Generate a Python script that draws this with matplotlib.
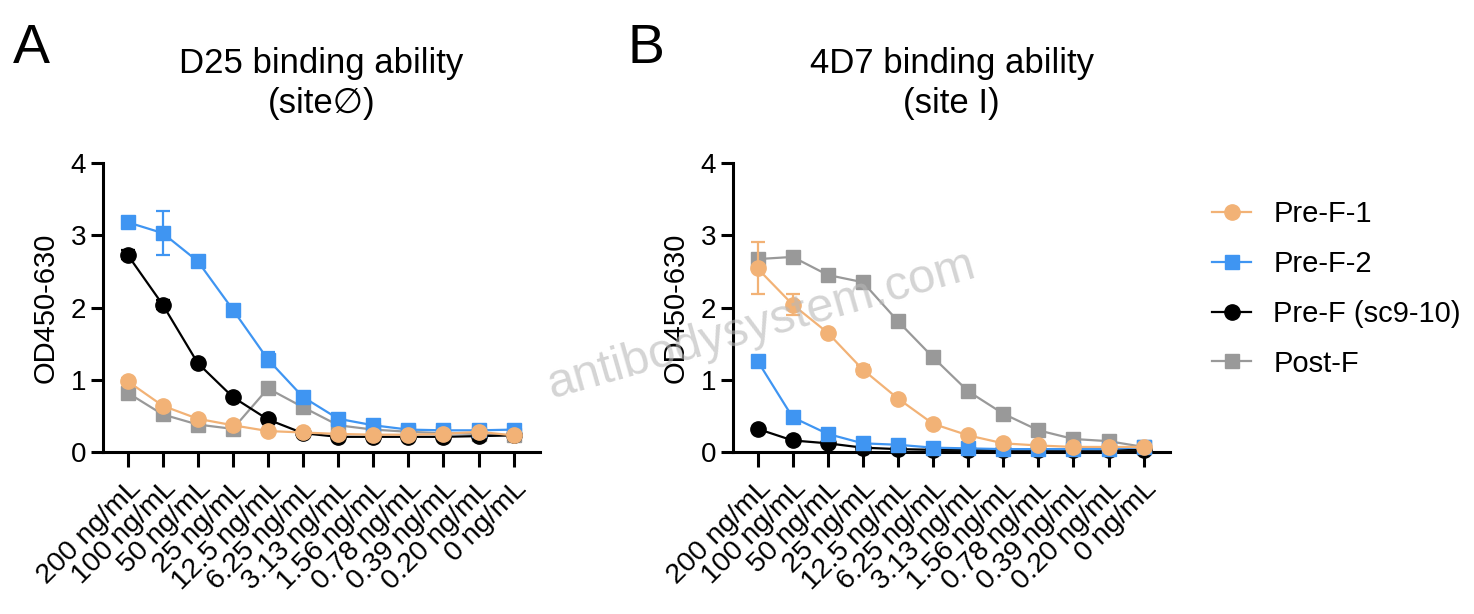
import matplotlib
matplotlib.use("Agg")
import matplotlib.pyplot as plt
from matplotlib.lines import Line2D
import numpy as np

plt.rcParams['font.family'] = ['Liberation Sans', 'DejaVu Sans']

concentrations = ["200 ng/mL", "100 ng/mL", "50 ng/mL", "25 ng/mL", "12.5 ng/mL",
                  "6.25 ng/mL", "3.13 ng/mL", "1.56 ng/mL", "0.78 ng/mL",
                  "0.39 ng/mL", "0.20 ng/mL", "0 ng/mL"]
series_names = ["Pre-F-1", "Pre-F-2", "Pre-F (sc9-10)", "Post-F"]

# Panel A: D25
d25_pref1 = [0.98, 0.64, 0.46, 0.37, 0.29, 0.27, 0.25, 0.24, 0.24, 0.25, 0.28, 0.23]
d25_pref2 = [3.18, 3.03, 2.64, 1.97, 1.28, 0.76, 0.46, 0.37, 0.31, 0.30, 0.30, 0.31]
d25_sc910 = [2.73, 2.04, 1.23, 0.76, 0.45, 0.26, 0.21, 0.21, 0.21, 0.21, 0.22, 0.23]
d25_postf = [0.82, 0.52, 0.38, 0.32, 0.88, 0.62, 0.37, 0.31, 0.28, 0.26, 0.25, 0.23]
d25_pref1_err = [0.04, 0.03, 0.02, 0.02, 0.02, 0.01, 0.01, 0.01, 0.01, 0.01, 0.01, 0.01]
d25_pref2_err = [0.03, 0.30, 0.04, 0.04, 0.10, 0.04, 0.02, 0.01, 0.01, 0.01, 0.01, 0.01]
d25_sc910_err = [0.06, 0.06, 0.03, 0.02, 0.02, 0.01, 0.01, 0.01, 0.01, 0.01, 0.01, 0.01]
d25_postf_err = [0.03, 0.02, 0.02, 0.02, 0.03, 0.03, 0.01, 0.01, 0.01, 0.01, 0.01, 0.01]

# Panel B: 4D7
d47_pref1 = [2.54, 2.04, 1.65, 1.14, 0.74, 0.39, 0.23, 0.12, 0.09, 0.07, 0.07, 0.07]
d47_pref2 = [1.26, 0.48, 0.25, 0.12, 0.10, 0.06, 0.05, 0.04, 0.04, 0.04, 0.04, 0.07]
d47_sc910 = [0.32, 0.16, 0.12, 0.06, 0.04, 0.03, 0.03, 0.03, 0.03, 0.03, 0.03, 0.03]
d47_postf = [2.67, 2.70, 2.45, 2.35, 1.81, 1.31, 0.84, 0.53, 0.30, 0.18, 0.15, 0.07]
d47_pref1_err = [0.36, 0.15, 0.03, 0.06, 0.03, 0.02, 0.02, 0.01, 0.01, 0.01, 0.01, 0.01]
d47_pref2_err = [0.05, 0.03, 0.02, 0.01, 0.01, 0.01, 0.01, 0.01, 0.01, 0.01, 0.01, 0.01]
d47_sc910_err = [0.02, 0.01, 0.01, 0.01, 0.01, 0.01, 0.01, 0.01, 0.01, 0.01, 0.01, 0.01]
d47_postf_err = [0.05, 0.03, 0.03, 0.03, 0.03, 0.03, 0.03, 0.02, 0.02, 0.01, 0.01, 0.01]

colors = {"Pre-F-1": "#F2B276", "Pre-F-2": "#3F95F2", "Pre-F (sc9-10)": "#000000", "Post-F": "#999999"}
markers = {"Pre-F-1": "o", "Pre-F-2": "s", "Pre-F (sc9-10)": "o", "Post-F": "s"}
zorders = {"Pre-F-1": 6, "Pre-F-2": 5, "Pre-F (sc9-10)": 4, "Post-F": 3}
msizes = {"o": 11, "s": 10}

fig = plt.figure(figsize=(14.74, 6.14), dpi=100)
axA = fig.add_axes([103/1474, 1-452/614, (540-103)/1474, (452-163)/614])
axB = fig.add_axes([733/1474, 1-452/614, (1170-733)/1474, (452-163)/614])

x = np.arange(len(concentrations))

def draw(ax, data, errs, title):
    for name in ["Post-F", "Pre-F (sc9-10)", "Pre-F-2", "Pre-F-1"]:
        ax.errorbar(x, data[name], yerr=errs[name], color=colors[name], marker=markers[name],
                    markersize=msizes[markers[name]], linewidth=1.6, elinewidth=1.6, capsize=5,
                    capthick=1.6, zorder=zorders[name], clip_on=False)
    ax.set_xlim(-0.7, 11.75)
    ax.set_ylim(0, 4)
    ax.set_yticks([0, 1, 2, 3, 4])
    ax.set_xticks(x)
    ax.set_xticklabels(concentrations, rotation=45, ha='right', rotation_mode='anchor', fontsize=20.5)
    ax.tick_params(axis='y', labelsize=20, width=2.2, length=9, pad=3)
    ax.tick_params(axis='x', width=2.2, length=11, pad=6)
    for s in ['top', 'right']:
        ax.spines[s].set_visible(False)
    for s in ['left', 'bottom']:
        ax.spines[s].set_linewidth(2.2)
    ax.set_ylabel("OD450-630", fontsize=21, labelpad=8)
    ax.set_title(title, fontsize=25, pad=36, linespacing=1.25)

draw(axA,
     {"Pre-F-1": d25_pref1, "Pre-F-2": d25_pref2, "Pre-F (sc9-10)": d25_sc910, "Post-F": d25_postf},
     {"Pre-F-1": d25_pref1_err, "Pre-F-2": d25_pref2_err, "Pre-F (sc9-10)": d25_sc910_err, "Post-F": d25_postf_err},
     "D25 binding ability\n(site\u2205)")
draw(axB,
     {"Pre-F-1": d47_pref1, "Pre-F-2": d47_pref2, "Pre-F (sc9-10)": d47_sc910, "Post-F": d47_postf},
     {"Pre-F-1": d47_pref1_err, "Pre-F-2": d47_pref2_err, "Pre-F (sc9-10)": d47_sc910_err, "Post-F": d47_postf_err},
     "4D7 binding ability\n(site I)")

fig.text(13/1474, 1-63/614, "A", fontsize=40, va='baseline', ha='left')
fig.text(627/1474, 1-63/614, "B", fontsize=40, va='baseline', ha='left')

handles = [Line2D([], [], color=colors[n], marker=markers[n], markersize=msizes[markers[n]],
                  linewidth=1.6) for n in series_names]
fig.legend(handles, series_names,
           loc='upper left', bbox_to_anchor=(1212/1474, 1-200/614), frameon=False,
           borderaxespad=0, borderpad=0,
           fontsize=21, handlelength=1.35, handletextpad=0.75, labelspacing=0.75)

fig.text(762/1474, 1-325/614, "antibodysystem.com", fontsize=35, color='#b8b8b8', alpha=0.6,
         rotation=16, ha='center', va='center', zorder=10)

fig.savefig("out.png", dpi=100)
